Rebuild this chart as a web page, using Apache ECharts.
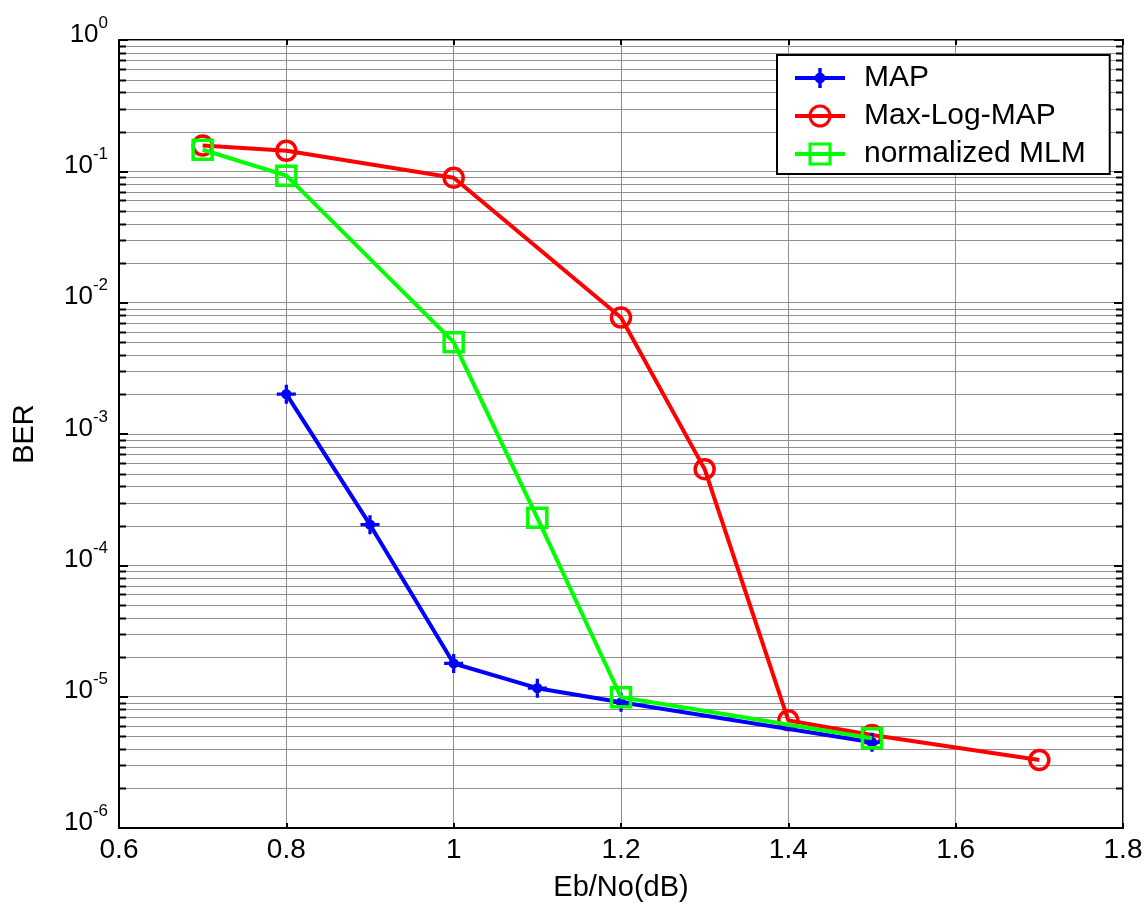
<!DOCTYPE html>
<html>
<head>
<meta charset="utf-8">
<style>
  html, body { margin: 0; padding: 0; background: #fff; }
  #chart { width: 1148px; height: 907px; }
</style>
<script src="https://cdn.jsdelivr.net/npm/echarts@6/dist/echarts.min.js"></script>
</head>
<body>
<div id="chart"></div>
<script>
// Eb/No (dB) sample points and measured bit error rates for each decoder
const mapEbNo  = [0.8, 0.9, 1.0, 1.1, 1.2, 1.5];
const mapBer   = [2.01e-3, 2.04e-4, 1.79e-5, 1.16e-5, 9.06e-6, 4.5e-6];

const mlmEbNo  = [0.7, 0.8, 1.0, 1.2, 1.3, 1.4, 1.5, 1.7];
const mlmBer   = [0.157, 0.1435, 0.0895, 7.7e-3, 5.4e-4, 6.6e-6, 5.1e-6, 3.29e-6];

const nmlmEbNo = [0.7, 0.8, 1.0, 1.1, 1.2, 1.5];
const nmlmBer  = [0.146, 0.0927, 5.0e-3, 2.3e-4, 9.9e-6, 4.83e-6];

const seriesNames = ['MAP', 'Max-Log-MAP', 'normalized MLM'];

// axis ranges
const xMin = 0.6, xMax = 1.8, xStep = 0.2;
const yMin = 1e-6, yMax = 1;

// minor log grid values 2..9 x 10^k inside each decade
const minorBer = [];
for (let k = -6; k < 0; k++) {
  for (let m = 2; m <= 9; m++) minorBer.push(m * Math.pow(10, k));
}

const FONT = 'Liberation Sans, Arial, Helvetica, sans-serif';
const GRID_GRAY = '#8f8f8f';

function pairs(xs, ys) { return xs.map((x, i) => [x, ys[i]]); }

// plus sign with a filled dot in the middle, used for the MAP curve
const plusMarker = 'path://M0,8.3h20v3.4h-20z M8.3,0h3.4v20h-3.4z M4.6,10a5.4,5.4 0 1,1 10.8,0a5.4,5.4 0 1,1 -10.8,0z';

const chart = echarts.init(document.getElementById('chart'), null, { renderer: 'canvas' });

const option = {
  backgroundColor: '#fff',
  animation: false,
  grid: {
    left: 119, right: 25, top: 40, bottom: 77,
    show: true, borderColor: '#000', borderWidth: 2, backgroundColor: 'transparent'
  },
  legend: {
    data: seriesNames,
    orient: 'vertical',
    left: 777, top: 55,
    itemWidth: 50, itemHeight: 25,
    itemGap: 8,
    padding: [8, 24, 5, 16],
    backgroundColor: '#fff',
    borderColor: '#000', borderWidth: 2, borderRadius: 0,
    lineStyle: { width: 4 },
    itemStyle: { borderWidth: 3 },
    textStyle: { fontFamily: FONT, fontSize: 30, color: '#000', lineHeight: 28, padding: [0, 0, 0, 14] }
  },
  xAxis: [{
    type: 'value', min: xMin, max: xMax, interval: xStep,
    name: 'Eb/No(dB)', nameLocation: 'middle', nameGap: 45,
    nameTextStyle: { fontFamily: FONT, fontSize: 29, color: '#000' },
    axisLine: { show: true, lineStyle: { color: '#000', width: 2 } },
    axisTick: { show: true, inside: true, length: 5, lineStyle: { color: '#000', width: 2 } },
    axisLabel: { fontFamily: FONT, fontSize: 28, color: '#000', margin: 8 },
    splitLine: { show: true, lineStyle: { color: GRID_GRAY, width: 1 } }
  }, {
    type: 'value', min: xMin, max: xMax, interval: xStep, position: 'top',
    axisLine: { show: false },
    axisTick: { show: true, inside: true, length: 5, lineStyle: { color: '#000', width: 2 } },
    axisLabel: { show: false },
    splitLine: { show: false }
  }],
  yAxis: [{
    type: 'log', logBase: 10, min: yMin, max: yMax,
    name: 'BER', nameLocation: 'middle', nameGap: 80, nameRotate: 90,
    nameTextStyle: { fontFamily: FONT, fontSize: 29, color: '#000' },
    axisLine: { show: true, lineStyle: { color: '#000', width: 2 } },
    axisTick: { show: true, inside: true, length: 9, lineStyle: { color: '#000', width: 2 } },
    axisLabel: {
      margin: 11,
      padding: [0, 0, 18, 0],
      formatter: function (v) {
        const e = Math.round(Math.log10(v));
        return '{n|10}{s|' + e + '}';
      },
      rich: {
        n: { fontFamily: FONT, fontSize: 26, lineHeight: 26, color: '#000', verticalAlign: 'bottom' },
        s: { fontFamily: FONT, fontSize: 17, color: '#000', padding: [0, 0, 16, 0] }
      }
    },
    splitLine: { show: true, lineStyle: { color: GRID_GRAY, width: 1 } }
  }, {
    type: 'log', logBase: 10, min: yMin, max: yMax, position: 'right',
    axisLine: { show: false },
    axisTick: { show: true, inside: true, length: 9, lineStyle: { color: '#000', width: 2 } },
    axisLabel: { show: false },
    splitLine: { show: false }
  }],
  series: [
    {
      // minor log gridlines with inward ticks on both vertical edges
      type: 'custom',
      name: 'minor-grid',
      silent: true,
      z: 1,
      xAxisIndex: 0, yAxisIndex: 0,
      data: minorBer.map(v => [xMin, v]),
      renderItem: function (params, api) {
        const y = Math.round(api.coord([xMin, api.value(1)])[1]) + 0.5;
        const cs = params.coordSys;
        const x0 = cs.x, x1 = cs.x + cs.width;
        return {
          type: 'group',
          children: [
            { type: 'line', shape: { x1: x0, y1: y, x2: x1, y2: y }, style: { stroke: GRID_GRAY, lineWidth: 1 } },
            { type: 'line', shape: { x1: x0, y1: y, x2: x0 + 7, y2: y }, style: { stroke: '#000', lineWidth: 2 } },
            { type: 'line', shape: { x1: x1 - 7, y1: y, x2: x1, y2: y }, style: { stroke: '#000', lineWidth: 2 } }
          ]
        };
      }
    },
    {
      name: seriesNames[0], type: 'line', z: 4,
      data: pairs(mapEbNo, mapBer),
      symbol: plusMarker, symbolSize: 19, showAllSymbol: true,
      lineStyle: { color: '#0000ff', width: 4 },
      itemStyle: { color: '#0000ff', borderWidth: 0 }
    },
    {
      name: seriesNames[1], type: 'line', z: 3,
      data: pairs(mlmEbNo, mlmBer),
      symbol: 'circle', symbolSize: 19, showAllSymbol: true,
      lineStyle: { color: '#ff0000', width: 4 },
      itemStyle: { color: 'rgba(0,0,0,0)', borderColor: '#ff0000', borderWidth: 3.5 }
    },
    {
      name: seriesNames[2], type: 'line', z: 5,
      data: pairs(nmlmEbNo, nmlmBer),
      symbol: 'rect', symbolSize: 19, showAllSymbol: true,
      lineStyle: { color: '#00ff00', width: 4 },
      itemStyle: { color: 'rgba(0,0,0,0)', borderColor: '#00ff00', borderWidth: 3.5 }
    }
  ]
};

chart.setOption(option);
</script>
</body>
</html>
